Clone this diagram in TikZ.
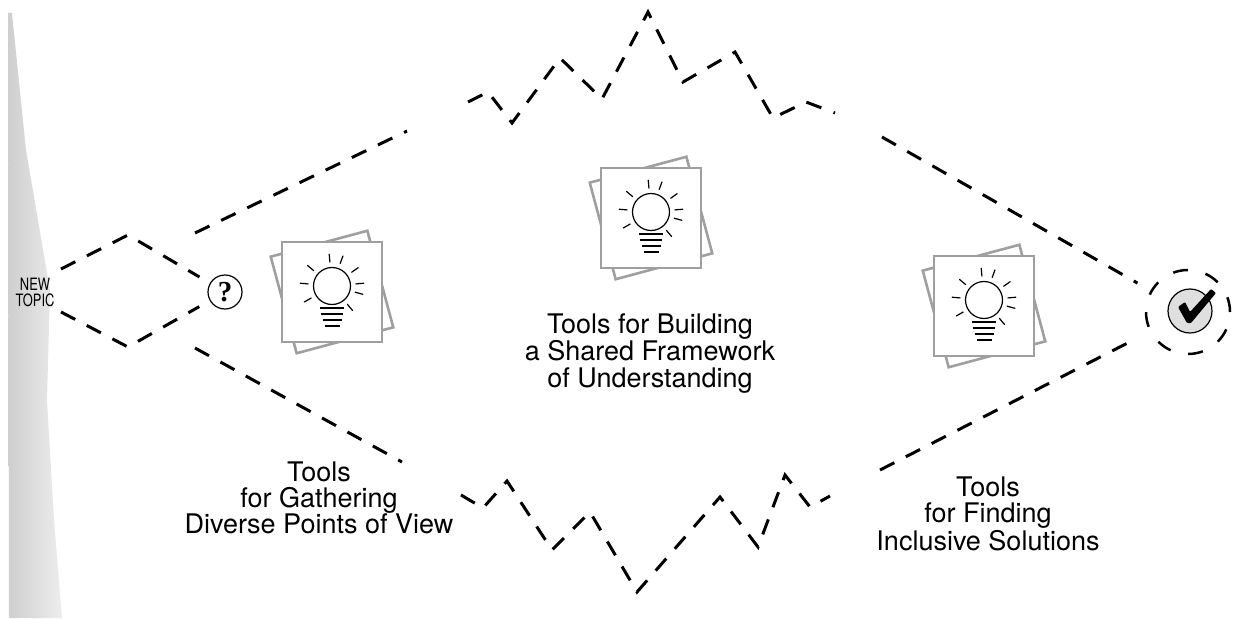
\documentclass[tikz,border=0pt]{standalone}
\usepackage{fontspec}
\newfontfamily\heros{TeX Gyre Heros}
\newfontfamily\herosnarrow[FakeStretch=0.76]{TeX Gyre Heros}
\newfontfamily\qserif{Liberation Serif}
\usetikzlibrary{calc}

\begin{document}
\begin{tikzpicture}
	[x=1pt,y=-1pt,
	 dashline/.style={line width=3pt,dash pattern=on 16pt off 13pt},
	 ring/.style={circle,draw,line width=2.5pt,dash pattern=on 15pt off 18pt,minimum size=84pt,inner sep=0pt},
	 disc/.style={circle,draw,line width=1.2pt,fill=gray!25,minimum size=44pt,inner sep=0pt},
	 qmark/.style={circle,draw,line width=1.2pt,minimum size=34pt,inner sep=0pt,font=\qserif\bfseries\fontsize{29}{29}\selectfont},
	 card/.style={draw=gray!75,line width=2.6pt,fill=white,minimum size=100pt,inner sep=0pt},
	 backcard/.style={draw=gray!75,line width=2.6pt},
	 ray/.style={line width=1.2pt,line cap=round},
	 socket/.style={line width=2.6pt},
	 toolstext/.style={align=center,anchor=base,inner sep=0pt,font=\heros\fontsize{27}{26}\selectfont}]

	\useasboundingbox (0,0) rectangle (1236,618);

	% scanned page edge
	\shade[left color=gray!38,right color=gray!14] (8,13) -- (12,13) -- (26,150) -- (50,290) -- (47,400) -- (54,520) -- (62,618) -- (9,618) -- cycle;

	\node[font=\herosnarrow\fontsize{17}{16}\selectfont,align=center,inner sep=0pt] (new) at (35,292) {NEW\\TOPIC};
	\node[qmark] (ask) at (225,292) {?};
	\node[ring] (done) at (1188,312) {};
	\node[disc] (tick) at (1190,311) {};
	\fill[shift={(tick.center)},rounded corners=1pt] (-12,-4) -- (-5,-9) -- (0,1) -- (21,-22) -- (26,-18) -- (1,12) -- (-3,12) -- cycle;

	% idea cards
	\foreach \cx/\cy/\nm in {332/292/gather, 651/218/frame, 984/306/solve}{
		\begin{scope}[shift={(\cx,\cy)}]
			\draw[backcard,rotate=15] (-50,-50) rectangle (50,50);
			\node[card] (card-\nm) at (0,0) {};
			\draw[line width=1.2pt] (0,-6) circle (18.5);
			\foreach \a in {-95,-70,-140,-35,-175,-5,-210,15,50}
				\draw[ray] (0,-6) ++(\a:24) -- ++(\a:8);
			\foreach \dy/\w in {16/12,22/11,28/9.5,34/7.5}
				\draw[socket] (-\w,\dy) -- (\w,\dy);
		\end{scope}
	}

	% left diamond
	\coordinate (dtop) at (128,235);
	\coordinate (dbot) at (128,347);
	\draw[dashline,shorten >=12pt] (61,269) -- (dtop) -- (ask);
	\draw[dashline,shorten >=12pt] (61,312) -- (dbot) -- (ask);

	% upper edge
	\draw[dashline] (195,233) -- (407,131);
	\draw[dashline] (468,102) -- (488,92) -- (512,123) -- (560,58) -- (602,99) -- (648,12) -- (683,82) -- (735,52) -- (773,118) -- (806,102) -- (835,113);
	\draw[dashline,shorten >=15pt] (882,137) -- (done);

	% lower edge
	\draw[dashline] (195,348) -- (402,462);
	\draw[dashline] (461,495) -- (483,508) -- (507,481) -- (552,550) -- (590,512) -- (637,592) -- (720,497) -- (758,547) -- (785,475) -- (810,507) -- (830,496);
	\draw[dashline,shorten >=15pt] (880,470) -- (done);

	\node[toolstext] (gather) at (319,533) {Tools\\for Gathering\\Diverse Points of View};
	\node[toolstext,font=\heros\fontsize{27}{27}\selectfont] (frame) at (650,387) {Tools for Building\\a Shared Framework\\of Understanding};
	\node[toolstext] (solve) at (988,550) {Tools\\for Finding\\Inclusive Solutions};
\end{tikzpicture}
\end{document}
